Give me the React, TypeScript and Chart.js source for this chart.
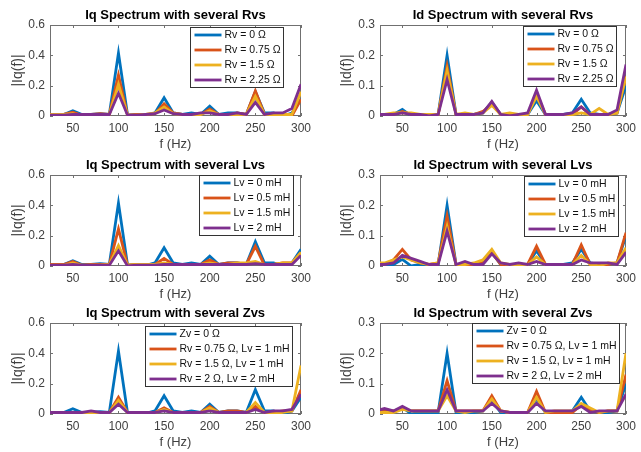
import React, { useEffect, useRef } from 'react';
import { Chart, registerables } from 'chart.js';

Chart.register(...registerables);

// ---------- data ----------
const freqs = [20, 30, 40, 50, 60, 70, 80, 90, 100, 110, 120, 130, 140, 150, 160, 170, 180, 190, 200, 210, 220, 230, 240, 250, 260, 270, 280, 290, 300];
const xTicks = [50, 100, 150, 200, 250, 300];
const iqTicks = [0, 0.2, 0.4, 0.6];
const idTicks = [0, 0.1, 0.2, 0.3];
const seriesColors = ['#0072BD', '#D95319', '#EDB120', '#7E2F8E'];

const titles = [
  'Iq Spectrum with several Rvs',
  'Id Spectrum with several Rvs',
  'Iq Spectrum with several Lvs',
  'Id Spectrum with several Lvs',
  'Iq Spectrum with several Zvs',
  'Id Spectrum with several Zvs',
];
const xTitle = 'f (Hz)';
const iqTitle = '|Iq(f)|';
const idTitle = '|Id(f)|';

const rvLabels = ['Rv = 0 Ω', 'Rv = 0.75 Ω', 'Rv = 1.5 Ω', 'Rv = 2.25 Ω'];
const lvLabels = ['Lv = 0 mH', 'Lv = 0.5 mH', 'Lv = 1.5 mH', 'Lv = 2 mH'];
const zvLabels = ['Zv = 0 Ω', 'Rv = 0.75 Ω, Lv = 1 mH', 'Rv = 1.5 Ω, Lv = 1 mH', 'Rv = 2 Ω, Lv = 2 mH'];

const iqBase = [0.01, 0.01, 0.01, 0.035, 0.01, 0.01, 0.015, 0.01, 0.415, 0.005, 0.01, 0.005, 0.02, 0.12, 0.02, 0.01, 0.02, 0.01, 0.065, 0.01, 0.02, 0.02, 0.01, 0.16, 0.02, 0.02, 0.0, 0.02, 0.11];
const iqRv075 = [0.01, 0.005, 0.01, 0.025, 0.005, 0.01, 0.015, 0.01, 0.27, 0.005, 0.01, 0.01, 0.015, 0.08, 0.02, 0.01, 0.01, 0.01, 0.045, 0.01, 0.0, 0.02, 0.01, 0.165, 0.01, 0.01, 0.0, 0.0, 0.11];
const iqRv15 = [0.01, 0.01, 0.01, 0.015, 0.0, 0.01, 0.01, 0.01, 0.21, 0.005, 0.005, 0.01, 0.02, 0.06, 0.015, 0.01, 0.01, 0.01, 0.035, 0.01, 0.01, 0.01, 0.01, 0.13, 0.01, 0.01, 0.01, 0.01, 0.16];
const iqRv225 = [0.005, 0.005, 0.005, 0.01, 0.01, 0.01, 0.01, 0.01, 0.15, 0.005, 0.005, 0.01, 0.015, 0.04, 0.015, 0.01, 0.01, 0.02, 0.02, 0.01, 0.01, 0.02, 0.01, 0.09, 0.01, 0.02, 0.02, 0.05, 0.21];

const idBase = [0.005, 0.005, 0.005, 0.022, 0.0, 0.005, 0.005, 0.005, 0.2, 0.005, 0.005, 0.005, 0.01, 0.045, 0.005, 0.005, 0.005, 0.005, 0.05, 0.005, 0.005, 0.005, 0.01, 0.055, 0.01, 0.005, 0.005, 0.01, 0.1];
const idRv075 = [0.0, 0.0, 0.005, 0.015, 0.005, 0.005, 0.005, 0.005, 0.165, 0.005, 0.005, 0.005, 0.015, 0.04, 0.005, 0.005, 0.005, 0.005, 0.075, 0.005, 0.005, 0.005, 0.005, 0.03, 0.005, 0.005, 0.005, 0.01, 0.13];
const idRv15 = [0.005, 0.005, 0.01, 0.01, 0.01, 0.005, 0.005, 0.005, 0.15, 0.005, 0.01, 0.005, 0.01, 0.035, 0.005, 0.01, 0.005, 0.005, 0.065, 0.005, 0.005, 0.005, 0.005, 0.01, 0.005, 0.025, 0.005, 0.01, 0.13];
const idRv225 = [0.005, 0.005, 0.005, 0.01, 0.005, 0.005, 0.0, 0.005, 0.12, 0.005, 0.005, 0.005, 0.01, 0.048, 0.005, 0.0, 0.005, 0.01, 0.085, 0.005, 0.005, 0.005, 0.01, 0.03, 0.005, 0.005, 0.005, 0.02, 0.17];

const iqLv05 = [0.01, 0.01, 0.01, 0.03, 0.005, 0.01, 0.01, 0.01, 0.245, 0.005, 0.01, 0.01, 0.01, 0.05, 0.01, 0.01, 0.01, 0.01, 0.04, 0.01, 0.02, 0.02, 0.01, 0.13, 0.005, 0.01, 0.02, 0.02, 0.09];
const iqLv15 = [0.005, 0.005, 0.005, 0.02, 0.005, 0.005, 0.005, 0.01, 0.135, 0.005, 0.01, 0.01, 0.01, 0.02, 0.01, 0.01, 0.01, 0.01, 0.02, 0.01, 0.01, 0.02, 0.02, 0.03, 0.01, 0.01, 0.02, 0.02, 0.09];
const iqLv2 = [0.005, 0.005, 0.005, 0.01, 0.005, 0.005, 0.005, 0.005, 0.1, 0.0, 0.005, 0.005, 0.005, 0.01, 0.01, 0.01, 0.01, 0.01, 0.01, 0.01, 0.01, 0.01, 0.01, 0.015, 0.01, 0.01, 0.01, 0.01, 0.07];

const idLv05 = [0.005, 0.005, 0.02, 0.055, 0.02, 0.01, 0.005, 0.01, 0.165, 0.005, 0.005, 0.005, 0.01, 0.045, 0.005, 0.005, 0.005, 0.005, 0.065, 0.005, 0.005, 0.005, 0.005, 0.07, 0.005, 0.005, 0.005, 0.01, 0.11];
const idLv15 = [0.01, 0.01, 0.02, 0.03, 0.02, 0.01, 0.005, 0.01, 0.13, 0.005, 0.005, 0.01, 0.02, 0.055, 0.01, 0.005, 0.005, 0.005, 0.03, 0.005, 0.005, 0.005, 0.005, 0.035, 0.005, 0.0, 0.01, 0.01, 0.06];
const idLv2 = [0.005, 0.005, 0.01, 0.035, 0.025, 0.015, 0.005, 0.005, 0.115, 0.005, 0.015, 0.005, 0.005, 0.04, 0.01, 0.005, 0.01, 0.005, 0.015, 0.005, 0.005, 0.005, 0.005, 0.02, 0.01, 0.01, 0.01, 0.005, 0.045];

const iqZ1 = [0.01, 0.01, 0.01, 0.01, 0.01, 0.01, 0.01, 0.01, 0.11, 0.01, 0.01, 0.01, 0.01, 0.04, 0.01, 0.01, 0.01, 0.01, 0.05, 0.01, 0.02, 0.02, 0.01, 0.05, 0.01, 0.01, 0.02, 0.02, 0.16];
const iqZ2 = [0.01, 0.01, 0.01, 0.01, 0.0, 0.005, 0.01, 0.01, 0.09, 0.01, 0.01, 0.01, 0.01, 0.03, 0.01, 0.01, 0.01, 0.01, 0.04, 0.01, 0.01, 0.01, 0.01, 0.075, 0.01, 0.0, 0.01, 0.02, 0.32];
const iqZ3 = [0.01, 0.01, 0.01, 0.01, 0.01, 0.02, 0.01, 0.01, 0.065, 0.01, 0.01, 0.01, 0.01, 0.02, 0.01, 0.01, 0.01, 0.01, 0.02, 0.01, 0.01, 0.01, 0.01, 0.03, 0.01, 0.02, 0.02, 0.03, 0.13];

const idZ1 = [0.005, 0.01, 0.01, 0.02, 0.01, 0.01, 0.01, 0.01, 0.11, 0.01, 0.01, 0.01, 0.01, 0.06, 0.01, 0.005, 0.005, 0.005, 0.075, 0.005, 0.005, 0.005, 0.005, 0.03, 0.01, 0.005, 0.01, 0.01, 0.13];
const idZ2 = [0.005, 0.005, 0.005, 0.015, 0.01, 0.01, 0.01, 0.01, 0.06, 0.01, 0.005, 0.01, 0.01, 0.05, 0.01, 0.005, 0.005, 0.005, 0.055, 0.005, 0.01, 0.01, 0.01, 0.035, 0.02, 0.005, 0.01, 0.01, 0.2];
const idZ3 = [0.01, 0.018, 0.01, 0.025, 0.01, 0.01, 0.01, 0.01, 0.08, 0.01, 0.01, 0.01, 0.01, 0.035, 0.01, 0.005, 0.005, 0.005, 0.035, 0.01, 0.01, 0.01, 0.01, 0.025, 0.005, 0.01, 0.01, 0.01, 0.065];

// ---------- panels ----------
const FONT = '"Liberation Sans", Arial, Helvetica, sans-serif';

type Panel = {
  title: string;
  yTitle: string;
  yMax: number;
  yTicks: number[];
  series: number[][];
  labels: string[];
  left: number;
  top: number;
  width: number;
  yAxisW: number;
  padRight: number;
  yTitlePad: number;
  legendRight: number;
  legendTop: number;
};

const panels: Panel[] = [
  { title: titles[0], yTitle: iqTitle, yMax: 0.6, yTicks: iqTicks, series: [iqBase, iqRv075, iqRv15, iqRv225], labels: rvLabels, left: 0, top: 0, width: 320, yAxisW: 50, padRight: 19, yTitlePad: 9.5, legendRight: 18, legendTop: 2 },
  { title: titles[1], yTitle: idTitle, yMax: 0.3, yTicks: idTicks, series: [idBase, idRv075, idRv15, idRv225], labels: rvLabels, left: 320, top: 0, width: 321, yAxisW: 60, padRight: 11, yTitlePad: 18.5, legendRight: 10, legendTop: 1 },
  { title: titles[2], yTitle: iqTitle, yMax: 0.6, yTicks: iqTicks, series: [iqBase, iqLv05, iqLv15, iqLv2], labels: lvLabels, left: 0, top: 150, width: 320, yAxisW: 50, padRight: 19, yTitlePad: 9.5, legendRight: 8, legendTop: 0 },
  { title: titles[3], yTitle: idTitle, yMax: 0.3, yTicks: idTicks, series: [idBase, idLv05, idLv15, idLv2], labels: lvLabels, left: 320, top: 150, width: 321, yAxisW: 60, padRight: 11, yTitlePad: 18.5, legendRight: 8, legendTop: 1 },
  { title: titles[4], yTitle: iqTitle, yMax: 0.6, yTicks: iqTicks, series: [iqBase, iqZ1, iqZ2, iqZ3], labels: zvLabels, left: 0, top: 298, width: 320, yAxisW: 50, padRight: 19, yTitlePad: 9.5, legendRight: 9, legendTop: 3 },
  { title: titles[5], yTitle: idTitle, yMax: 0.3, yTicks: idTicks, series: [idBase, idZ1, idZ2, idZ3], labels: zvLabels, left: 320, top: 298, width: 321, yAxisW: 60, padRight: 11, yTitlePad: 18.5, legendRight: 7, legendTop: 0 },
];

const CANVAS_H = 152;

const boxPlugin = {
  id: 'matlabBox',
  beforeDatasetsDraw(chart: any) {
    const { ctx, chartArea: a, scales } = chart;
    ctx.save();
    ctx.strokeStyle = '#707070';
    ctx.lineWidth = 1;
    ctx.strokeRect(a.left + 0.5, a.top + 0.5, a.right - a.left - 1, a.bottom - a.top - 1);
    ctx.beginPath();
    scales.x.ticks.forEach((t: any) => {
      const px = Math.round(scales.x.getPixelForValue(t.value)) + 0.5;
      ctx.moveTo(px, a.bottom);
      ctx.lineTo(px, a.bottom - 3);
      ctx.moveTo(px, a.top);
      ctx.lineTo(px, a.top + 3);
    });
    scales.y.ticks.forEach((t: any) => {
      const py = Math.round(scales.y.getPixelForValue(t.value)) + 0.5;
      ctx.moveTo(a.left, py);
      ctx.lineTo(a.left + 3, py);
      ctx.moveTo(a.right, py);
      ctx.lineTo(a.right - 3, py);
    });
    ctx.stroke();
    ctx.restore();
  },
};

const legendPlugin = {
  id: 'boxLegend',
  afterDraw(chart: any, _args: any, opts: any) {
    const { ctx, chartArea: a } = chart;
    const ds = chart.data.datasets;
    ctx.save();
    ctx.font = `10.5px ${FONT}`;
    const tw = Math.max(...ds.map((d: any) => ctx.measureText(d.label).width));
    const rowH = 15;
    const w = Math.round(34 + tw + 3);
    const h = rowH * ds.length;
    const x = Math.round(a.right - opts.right - w) + 0.5;
    const y = Math.round(a.top + opts.top) + 0.5;
    ctx.fillStyle = '#ffffff';
    ctx.fillRect(x, y, w, h);
    ctx.strokeStyle = '#333333';
    ctx.lineWidth = 1;
    ctx.strokeRect(x, y, w, h);
    ds.forEach((d: any, i: number) => {
      const cy = y + 7.5 + i * rowH;
      ctx.strokeStyle = d.borderColor;
      ctx.lineWidth = 2.8;
      ctx.beginPath();
      ctx.moveTo(x + 4, cy);
      ctx.lineTo(x + 31, cy);
      ctx.stroke();
      ctx.fillStyle = '#111111';
      ctx.textBaseline = 'middle';
      ctx.textAlign = 'left';
      ctx.fillText(d.label, x + 34, cy + 0.5);
    });
    ctx.restore();
  },
};

function PanelChart({ p }: { p: Panel }) {
  const ref = useRef<HTMLCanvasElement | null>(null);
  useEffect(() => {
    if (!ref.current) return;
    const chart = new Chart(ref.current, {
      type: 'line',
      data: {
        datasets: p.series.map((vals, i) => ({
          label: p.labels[i],
          data: freqs.map((f, j) => ({ x: f, y: vals[j] })),
          borderColor: seriesColors[i],
          backgroundColor: seriesColors[i],
          borderWidth: 2.8,
          pointRadius: 0,
          tension: 0,
          fill: false,
          order: p.series.length - 1 - i,
        })),
      },
      options: {
        animation: false,
        responsive: false,
        devicePixelRatio: 1,
        layout: { padding: { left: 0, right: p.padRight, top: 0, bottom: 0 } },
        plugins: {
          legend: { display: false },
          tooltip: { enabled: false },
          title: {
            display: true,
            fullSize: false,
            text: p.title,
            color: '#000000',
            font: { family: FONT, size: 13, weight: 'bold', lineHeight: 1.2 },
            padding: { top: 8, bottom: 1.4 },
          },
          boxLegend: { right: p.legendRight, top: p.legendTop },
        } as any,
        scales: {
          x: {
            type: 'linear',
            min: 25,
            max: 300,
            afterBuildTicks: (s: any) => {
              s.ticks = xTicks.map((v) => ({ value: v }));
            },
            afterFit: (s: any) => {
              s.height = 36;
            },
            grid: { display: false, drawTicks: false },
            border: { display: false },
            ticks: {
              color: '#404040',
              font: { family: FONT, size: 12 },
              padding: 5,
              maxRotation: 0,
              autoSkip: false,
              callback: (v: any) => String(v),
            },
            title: {
              display: true,
              text: xTitle,
              color: '#404040',
              font: { family: FONT, size: 13 },
              padding: { top: 0, bottom: 0 },
            },
          },
          y: {
            type: 'linear',
            min: 0,
            max: p.yMax,
            afterBuildTicks: (s: any) => {
              s.ticks = p.yTicks.map((v) => ({ value: v }));
            },
            afterFit: (s: any) => {
              s.width = p.yAxisW;
            },
            grid: { display: false, drawTicks: false },
            border: { display: false },
            ticks: {
              color: '#404040',
              font: { family: FONT, size: 12 },
              padding: 5,
              autoSkip: false,
              callback: (v: any) => String(v),
            },
            title: {
              display: true,
              text: p.yTitle,
              color: '#404040',
              font: { family: FONT, size: 14 },
              padding: { top: p.yTitlePad, bottom: 0 },
            },
          },
        },
      } as any,
      plugins: [boxPlugin, legendPlugin],
    });
    return () => chart.destroy();
  }, [p]);
  return (
    <canvas
      ref={ref}
      width={p.width}
      height={CANVAS_H}
      style={{ position: 'absolute', left: p.left, top: p.top, width: p.width, height: CANVAS_H }}
    />
  );
}

export default function App() {
  return (
    <div style={{ position: 'absolute', left: 0, top: 0, width: 641, height: 452, background: '#ffffff', overflow: 'hidden' }}>
      {panels.map((p, i) => (
        <PanelChart key={i} p={p} />
      ))}
    </div>
  );
}
